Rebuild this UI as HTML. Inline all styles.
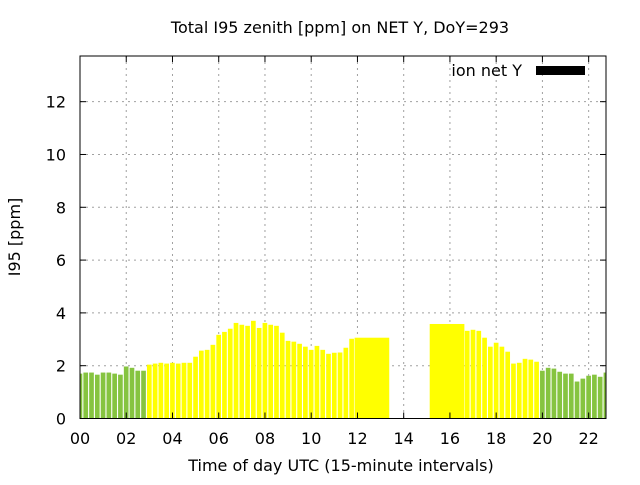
<!DOCTYPE html>
<html><head><meta charset="utf-8"><style>
body{margin:0;background:#fff}
svg text{font-family:"DejaVu Sans","Liberation Sans",sans-serif;fill:#000}
</style></head><body>
<svg width="640" height="480" viewBox="0 0 640 480">
<rect width="640" height="480" fill="#fff"/>
<g id="grid"></g>
<g id="bars"></g>
<g id="axes"></g>
<text x="340" y="33" font-size="16" text-anchor="middle">Total I95 zenith [ppm] on NET Y, DoY=293</text>
<text x="341" y="471" font-size="16" text-anchor="middle">Time of day UTC (15-minute intervals)</text>
<text transform="translate(20,237) rotate(-90)" font-size="16" text-anchor="middle">I95 [ppm]</text>
<g>
<text x="522" y="76" font-size="16" text-anchor="end">ion net Y</text>
<rect x="536" y="66" width="49" height="9" fill="#000"/>
</g>
</svg>
<script>
const slots = [0,1,2,3,4,5,6,7,8,9,10,11,12,13,14,15,16,17,18,19,20,21,22,23,24,25,26,27,28,29,30,31,32,33,34,35,36,37,38,39,40,41,42,43,44,45,46,47,48,61,67,68,69,70,71,72,73,74,75,76,77,78,79,80,81,82,83,84,85,86,87,88,89,90,91];
const spans = [1,1,1,1,1,1,1,1,1,1,1,1,1,1,1,1,1,1,1,1,1,1,1,1,1,1,1,1,1,1,1,1,1,1,1,1,1,1,1,1,1,1,1,1,1,1,1,1,6,6,1,1,1,1,1,1,1,1,1,1,1,1,1,1,1,1,1,1,1,1,1,1,1,1,1];
const values = [1.70,1.74,1.74,1.66,1.74,1.74,1.70,1.66,1.97,1.92,1.81,1.81,2.04,2.08,2.11,2.08,2.11,2.08,2.11,2.11,2.34,2.57,2.60,2.79,3.17,3.28,3.40,3.62,3.55,3.51,3.70,3.43,3.62,3.55,3.51,3.25,2.94,2.91,2.83,2.72,2.60,2.75,2.60,2.45,2.49,2.50,2.68,3.02,3.06,3.58,3.32,3.36,3.32,3.06,2.72,2.87,2.72,2.53,2.08,2.11,2.26,2.23,2.15,1.81,1.92,1.89,1.77,1.70,1.70,1.40,1.51,1.62,1.66,1.58,1.74];
const xTicks = ["00","02","04","06","08","10","12","14","16","18","20","22"];
const yTicks = [0,2,4,6,8,10,12];
const X0=80,X1=606,Y0=418.5,Y1=56,XMAX=22.75,YMAX=13.73;
const xs=h=>X0+h/XMAX*(X1-X0), ys=v=>Y0-v/YMAX*(Y0-Y1);
const NS="http://www.w3.org/2000/svg";
function mk(tag,attrs,parent){const e=document.createElementNS(NS,tag);for(const k in attrs)e.setAttribute(k,attrs[k]);parent.appendChild(e);return e;}
const grid=document.getElementById('grid'),bars=document.getElementById('bars'),axes=document.getElementById('axes');
xTicks.forEach((t,i)=>{const x=xs(i*2);
 if(i>0){const l=mk('line',{x1:x,x2:x,y1:Y1,y2:Y0,stroke:'#a0a0a0','stroke-dasharray':'2,4'},grid);
 
 }
 const a=mk('line',{x1:x,x2:x,y1:Y0,y2:Y0-6,stroke:'#000'},axes);
 
 
 const b=mk('line',{x1:x,x2:x,y1:Y1,y2:Y1+6,stroke:'#000'},axes);
 
 
 const tx=mk('text',{x:x,y:444,'font-size':16,'text-anchor':'middle'},axes);tx.textContent=t;
 
 
});
yTicks.forEach(v=>{const y=ys(v);
 if(v>0){const l=mk('line',{x1:X0,x2:X1,y1:y,y2:y,stroke:'#a0a0a0','stroke-dasharray':'2,4'},grid);
 
 }
 const a=mk('line',{x1:X0,x2:X0+6,y1:y,y2:y,stroke:'#000'},axes);
 
 
 const b=mk('line',{x1:X1,x2:X1-6,y1:y,y2:y,stroke:'#000'},axes);
 
 
 const tx=mk('text',{x:66,y:y+6,'font-size':16,'text-anchor':'end'},axes);tx.textContent=v;
 
 
});
const cp=mk('clipPath',{id:'clip'},document.querySelector('svg'));
mk('rect',{x:X0,y:Y1,width:X1-X0,height:Y0-Y1},cp);
bars.setAttribute('clip-path','url(#clip)');
slots.forEach((s,i)=>{const h=s*0.25,n=spans[i];
 let x0,x1;
 if(n>1){x0=xs(h-0.125);x1=xs(h+(n-0.5)*0.25);}else{x0=xs(h-0.125)+0.5;x1=xs(h+0.125)-0.6;}
 const green=(h<3||h>=20);
 const r=mk('rect',{x:x0,y:ys(values[i]),width:x1-x0,height:Y0-ys(values[i]),fill:green?'#86c440':'#ffff00'},bars);
 
 
});
const bd=mk('rect',{x:X0,y:Y1,width:X1-X0,height:Y0-Y1,fill:'none',stroke:'#000','stroke-width':1},axes);


</script>
</body></html>
